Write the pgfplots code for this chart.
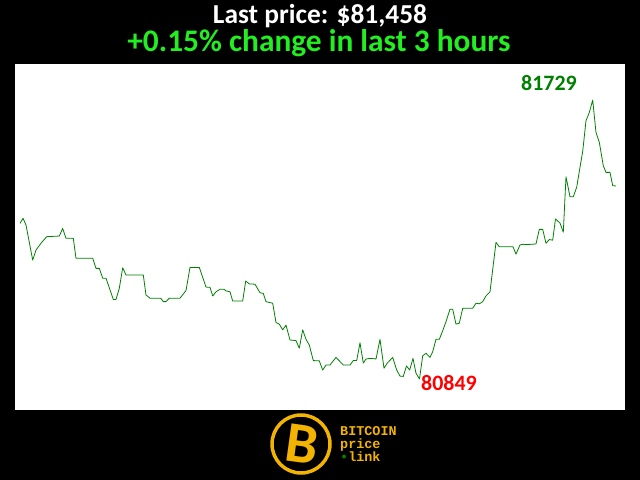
\documentclass[border=0pt]{standalone}
\usepackage{fontspec}
\setmainfont{Carlito}
\newfontfamily\monofont{Liberation Mono}
\usepackage{pgfplots}
\pgfplotsset{compat=1.18}
\definecolor{linegreen}{RGB}{0,128,0}
\definecolor{titlegreen}{RGB}{34,238,34}
\definecolor{gold}{RGB}{242,180,0}

% price over the last 3 hours (x in chart units, y in USD)
\pgfplotstableread{
x p
20 81340
23 81356
26 81335
32.7 81224
36 81256
41.7 81280
46.7 81298
59.3 81300
62.7 81324
66 81293
73.3 81293
76 81230
92.7 81230
96 81198
99.3 81198
102.7 81167
106 81167
113.3 81100
116 81100
119.3 81135
122.7 81200
126 81177
143.3 81177
146 81114
150 81104
160.7 81104
163.3 81093
166 81093
169.3 81104
180 81104
186 81128
190 81201
199.3 81201
206 81139
210 81138
212.7 81111
216 81124
220 81132
224 81132
226 81127
230 81124
232.7 81095
242.7 81095
245.7 81158
249.3 81149
255 81148
260 81121
263.3 81119
266 81093
272.7 81088
276 81027
279.3 81022
282.7 81004
286 81019
290 80972
296 80970
299.3 80946
302.7 81004
306 80974
309.3 80956
313.3 80907
319.3 80906
322.7 80877
326 80893
330 80893
336 80917
343.3 80893
350 80893
353.3 80907
356.7 80907
360 80963
363.3 80899
366 80912
370.7 80914
376 80912
380 80974
384 80883
387.3 80899
392.7 80917
396.7 80877
400 80858
403.3 80857
406.5 80890
409.7 80877
413 80914
416 80867
419.5 80849
422.7 80922
426 80930
430 80917
432.7 80935
436 80974
439.3 80974
442.7 81001
446 81030
450 81069
452.7 81069
456 81022
459.3 81025
462.7 81072
472.7 81072
476 81088
479.3 81086
482.7 81093
486 81111
490 81124
496 81280
499.3 81266
513 81266
516 81243
520 81272
523.3 81274
526.5 81273
536 81275
539.3 81321
542.7 81321
546 81277
549.3 81289
552.7 81287
555.5 81354
560 81341
563.3 81312
566 81487
570 81424
573.3 81424
576.7 81454
580 81517
582.7 81567
586 81664
589.3 81690
592.7 81729
596 81627
599.3 81596
603.3 81522
606 81501
610 81501
612.7 81459
616 81458
}\pricedata

\begin{document}
\begin{tikzpicture}
\fill[black] (0,0) rectangle (640bp,480bp);
\node[white, font=\fontsize{27.5}{27.5}\selectfont\bfseries, anchor=base, inner sep=0pt] at (320bp,456bp) {Last price: \$81,458};
\node[titlegreen, font=\fontsize{31.5}{31.5}\selectfont\bfseries, anchor=base, inner sep=0pt] at (319bp,428bp) {+0.15\% change in last 3 hours};
\begin{axis}[
    at={(15bp,70bp)}, anchor=south west,
    width=610bp, height=346bp, scale only axis,
    xmin=15, xmax=625, ymin=80751, ymax=81843,
    axis line style={draw=none}, ticks=none,
    axis background/.style={fill=white},
    clip=false]
  \addplot[linegreen, line width=0.8pt, line join=round] table[x=x, y=p] {\pricedata};
  \node[linegreen, font=\fontsize{22}{22}\selectfont\bfseries] at (axis cs:549,81783) {81729};
  \node[red, font=\fontsize{22}{22}\selectfont\bfseries] at (axis cs:449,80836) {80849};
\end{axis}
% logo
\draw[gold, line width=3.5bp] (301bp,36bp) circle (29bp);
\node[gold, font=\fontsize{58}{58}\selectfont\bfseries, rotate=-8] at (302bp,36bp) {B};
\node[gold, font=\monofont\fontsize{13.5}{13.5}\selectfont\bfseries, align=left, anchor=west, inner sep=0pt] at (340bp,36bp) {BITCOIN\\price\\\textcolor{linegreen}{\textbullet}link};
\end{tikzpicture}
\end{document}
